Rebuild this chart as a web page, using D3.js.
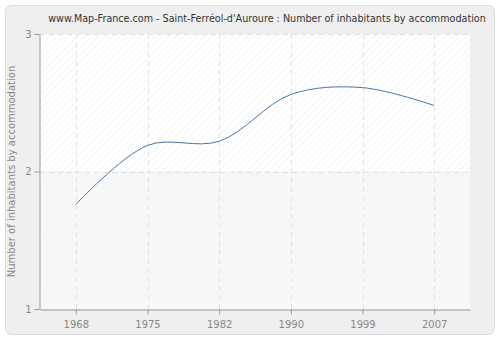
<!DOCTYPE html>
<html>
<head>
<meta charset="utf-8">
<script src="https://cdn.jsdelivr.net/npm/d3@7"></script>
<style>
  body { margin: 0; background: #fff; }
  svg { display: block; font-family: "DejaVu Sans", Verdana, sans-serif; }
</style>
</head>
<body>
<svg id="chart" width="500" height="340"></svg>
<script>
var years = ["1968", "1975", "1982", "1990", "1999", "2007"];
var values = [1.76, 2.19, 2.22, 2.56, 2.61, 2.48];
var yTicks = [1, 2, 3];

var plotLeft = 40, plotRight = 470, plotTop = 34, plotBottom = 309;

var svg = d3.select("#chart");
var defs = svg.append("defs");

// hatch patterns for the two bands
function hatch(id, bg, line) {
    var p = defs.append("pattern")
        .attr("id", id)
        .attr("patternUnits", "userSpaceOnUse")
        .attr("width", 5).attr("height", 5)
        .attr("patternTransform", "rotate(45)");
    p.append("rect").attr("width", 5).attr("height", 5).attr("fill", bg);
    p.append("line").attr("x1", 0).attr("y1", 0).attr("x2", 0).attr("y2", 5)
        .attr("stroke", line).attr("stroke-width", 1);
}
hatch("hatchTop", "#ffffff", "#ebebeb");
hatch("hatchLow", "#f8f8f8", "#f0f0f0");

// outer frame
svg.append("rect")
    .attr("x", 5.5).attr("y", 5.5)
    .attr("width", 489).attr("height", 329)
    .attr("rx", 6).attr("ry", 6)
    .attr("fill", "#efefef")
    .attr("stroke", "#dcdcdc");

var x = d3.scalePoint()
    .domain(years)
    .range([plotLeft, plotRight])
    .padding(0.5);

var y = d3.scaleLinear()
    .domain([1, 3])
    .range([plotBottom, plotTop]);

// bands
svg.append("rect")
    .attr("x", plotLeft).attr("y", y(3))
    .attr("width", plotRight - plotLeft).attr("height", y(2) - y(3))
    .attr("fill", "url(#hatchTop)");
svg.append("rect")
    .attr("x", plotLeft).attr("y", y(2))
    .attr("width", plotRight - plotLeft).attr("height", y(1) - y(2))
    .attr("fill", "url(#hatchLow)");

// grid
svg.append("g").selectAll("line")
    .data(years)
    .enter().append("line")
    .attr("x1", function(d) { return Math.round(x(d)) + 0.5; })
    .attr("x2", function(d) { return Math.round(x(d)) + 0.5; })
    .attr("y1", plotTop).attr("y2", plotBottom)
    .attr("stroke", "#e2e2e2")
    .attr("stroke-dasharray", "5,4");

svg.append("g").selectAll("line")
    .data(yTicks.slice(1))
    .enter().append("line")
    .attr("x1", plotLeft).attr("x2", plotRight)
    .attr("y1", function(d) { return Math.round(y(d)) + 0.5; })
    .attr("y2", function(d) { return Math.round(y(d)) + 0.5; })
    .attr("stroke", "#e2e2e2")
    .attr("stroke-dasharray", "5,4");

// axes
var xAxis = d3.axisBottom(x).tickSize(5).tickSizeOuter(0);
var yAxis = d3.axisLeft(y).tickValues(yTicks).tickFormat(d3.format("d")).tickSize(5).tickSizeOuter(0);

var gx = svg.append("g")
    .attr("transform", "translate(0," + (plotBottom + 0.5) + ")")
    .call(xAxis);
var gy = svg.append("g")
    .attr("transform", "translate(" + (plotLeft - 0.5) + ",0)")
    .call(yAxis);

[gx, gy].forEach(function(g) {
    g.select(".domain").attr("stroke", "#999");
    g.selectAll(".tick line").attr("stroke", "#999");
    g.selectAll(".tick text").attr("fill", "#888").attr("font-size", 10)
        .attr("font-family", "DejaVu Sans, sans-serif");
});
gx.selectAll(".tick text").attr("dy", "1.05em");

// curve
var line = d3.line()
    .x(function(d, i) { return x(years[i]); })
    .y(function(d) { return y(d); })
    .curve(d3.curveCatmullRom.alpha(0.5));

svg.append("path")
    .datum(values)
    .attr("d", line)
    .attr("fill", "none")
    .attr("stroke", "#4a76a8")
    .attr("stroke-width", 1);

// title
svg.append("text")
    .attr("x", 267).attr("y", 22)
    .attr("text-anchor", "middle")
    .attr("font-size", 9.6)
    .attr("fill", "#333")
    .text("www.Map-France.com - Saint-Ferréol-d'Auroure : Number of inhabitants by accommodation");

// y label
svg.append("text")
    .attr("transform", "translate(15," + ((plotTop + plotBottom) / 2) + ") rotate(-90)")
    .attr("text-anchor", "middle")
    .attr("font-size", 10)
    .attr("fill", "#888")
    .text("Number of inhabitants by accommodation");
</script>
</body>
</html>
